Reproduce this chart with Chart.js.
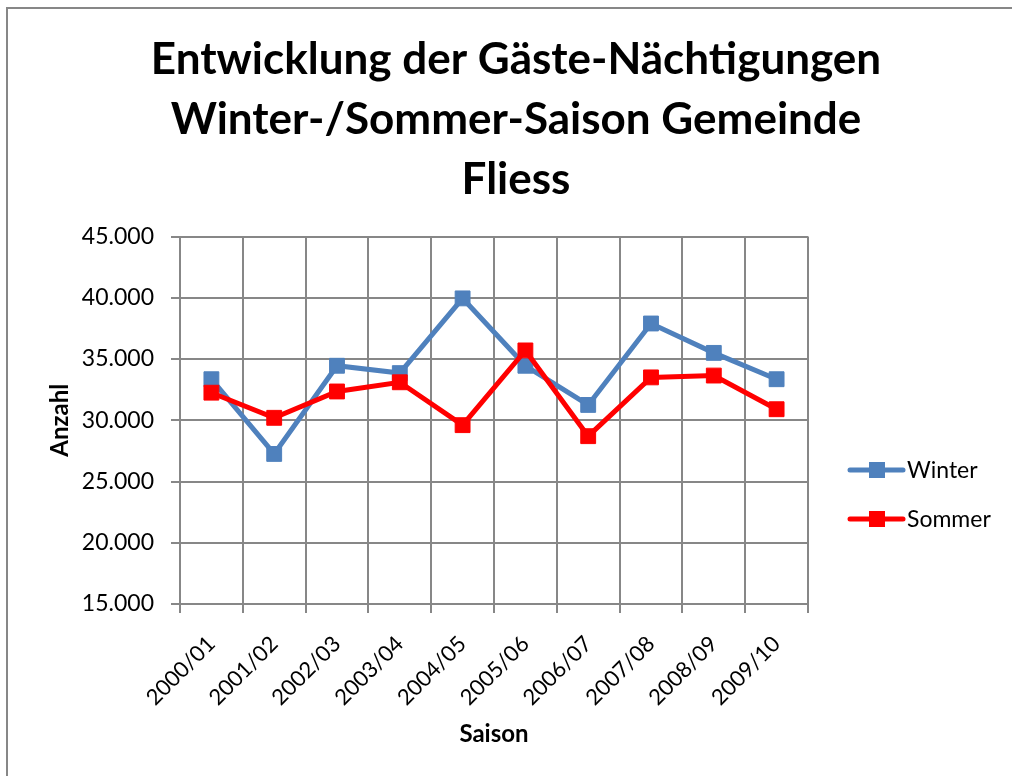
<!DOCTYPE html>
<html>
<head>
<meta charset="utf-8">
<script src="https://cdn.jsdelivr.net/npm/chart.js@4"></script>
<style>
  html, body { margin: 0; padding: 0; background: #fff; }
  canvas { display: block; }
</style>
</head>
<body>
<canvas id="grafik" width="1012" height="776"></canvas>
<script>
const saisons = ['2000/01', '2001/02', '2002/03', '2003/04', '2004/05', '2005/06', '2006/07', '2007/08', '2008/09', '2009/10'];
const winter = [33350, 27250, 34450, 33850, 39950, 34450, 31250, 37900, 35500, 33350];
const sommer = [32250, 30200, 32350, 33100, 29600, 35700, 28700, 33500, 33650, 30900];
const titelZeilen = ['Entwicklung der Gäste-Nächtigungen', 'Winter-/Sommer-Saison Gemeinde', 'Fliess'];

const schrift = 'Lato';
const grau = '#878787';

function tausender(v) {
    return String(v).replace(/\B(?=(\d{3})+(?!\d))/g, '.');
}

// Rahmen und weisser Hintergrund
const rahmen = {
    id: 'rahmen',
    beforeDraw(chart) {
        const c = chart.ctx;
        c.save();
        c.fillStyle = '#fff';
        c.fillRect(0, 0, chart.width, chart.height);
        c.strokeStyle = grau;
        c.lineWidth = 2;
        c.beginPath();
        c.moveTo(7, chart.height + 5);
        c.lineTo(7, 8);
        c.lineTo(chart.width + 5, 8);
        c.stroke();
        c.restore();
    }
};

// Legende wie in Excel: Linie mit Marker
const legende = {
    id: 'legende',
    afterDraw(chart) {
        const c = chart.ctx;
        const ys = [470, 519];
        c.save();
        chart.data.datasets.forEach((ds, i) => {
            const y = ys[i];
            c.strokeStyle = ds.borderColor;
            c.lineWidth = 5;
            c.lineCap = 'round';
            c.beginPath();
            c.moveTo(850, y);
            c.lineTo(903, y);
            c.stroke();
            c.fillStyle = ds.backgroundColor;
            c.fillRect(869, y - 8, 16, 16);
            c.fillStyle = '#000';
            c.font = '23px ' + schrift;
            c.textAlign = 'left';
            c.textBaseline = 'middle';
            c.fillText(ds.label, 907, y + 1);
        });
        c.restore();
    }
};

const ctx = document.getElementById('grafik').getContext('2d');

new Chart(ctx, {
    type: 'line',
    data: {
        labels: saisons,
        datasets: [{
            label: 'Winter',
            data: winter,
            borderColor: '#4F81BD',
            backgroundColor: '#4F81BD',
            borderWidth: 5,
            pointStyle: 'rect',
            pointRadius: 10.5,
            pointBorderWidth: 1,
            tension: 0,
            order: 1
        }, {
            label: 'Sommer',
            data: sommer,
            borderColor: '#FF0000',
            backgroundColor: '#FF0000',
            borderWidth: 5,
            pointStyle: 'rect',
            pointRadius: 10.5,
            pointBorderWidth: 1,
            tension: 0,
            order: 0
        }]
    },
    options: {
        responsive: false,
        animation: false,
        layout: { padding: { top: 0, right: 0, bottom: 0, left: 20 } },
        plugins: {
            legend: { display: false },
            tooltip: { enabled: false },
            title: {
                display: true,
                text: titelZeilen,
                color: '#000',
                font: { family: schrift, size: 44, weight: 'bold', lineHeight: 1.36 },
                padding: { top: 30, bottom: 27 }
            }
        },
        scales: {
            x: {
                offset: true,
                grid: { offset: true, color: grau, lineWidth: 2, tickLength: 9 },
                border: { color: grau, width: 2 },
                ticks: {
                    color: '#000',
                    font: { family: schrift, size: 22 },
                    minRotation: 45,
                    maxRotation: 45,
                    padding: 18
                },
                title: {
                    display: true,
                    text: 'Saison',
                    color: '#000',
                    font: { family: schrift, size: 24, weight: 'bold' },
                    padding: { top: 0, bottom: 27 }
                },
                afterFit(scale) { scale.height = 172; }
            },
            y: {
                min: 15000,
                max: 45000,
                grid: { color: grau, lineWidth: 2, tickLength: 9 },
                border: { color: grau, width: 2 },
                ticks: {
                    stepSize: 5000,
                    color: '#000',
                    font: { family: schrift, size: 23 },
                    padding: 17,
                    callback: (v) => tausender(v)
                },
                title: {
                    display: true,
                    text: 'Anzahl',
                    color: '#000',
                    font: { family: schrift, size: 24, weight: 'bold' },
                    padding: { top: 26, bottom: 0 }
                },
                afterFit(scale) { scale.width = 160; }
            },
            // leerer Platz rechts fuer die Legende
            rechts: {
                type: 'linear',
                position: 'right',
                grid: { display: false },
                border: { display: false },
                ticks: { display: false },
                afterFit(scale) { scale.width = 204; }
            }
        }
    },
    plugins: [rahmen, legende]
});
</script>
</body>
</html>
